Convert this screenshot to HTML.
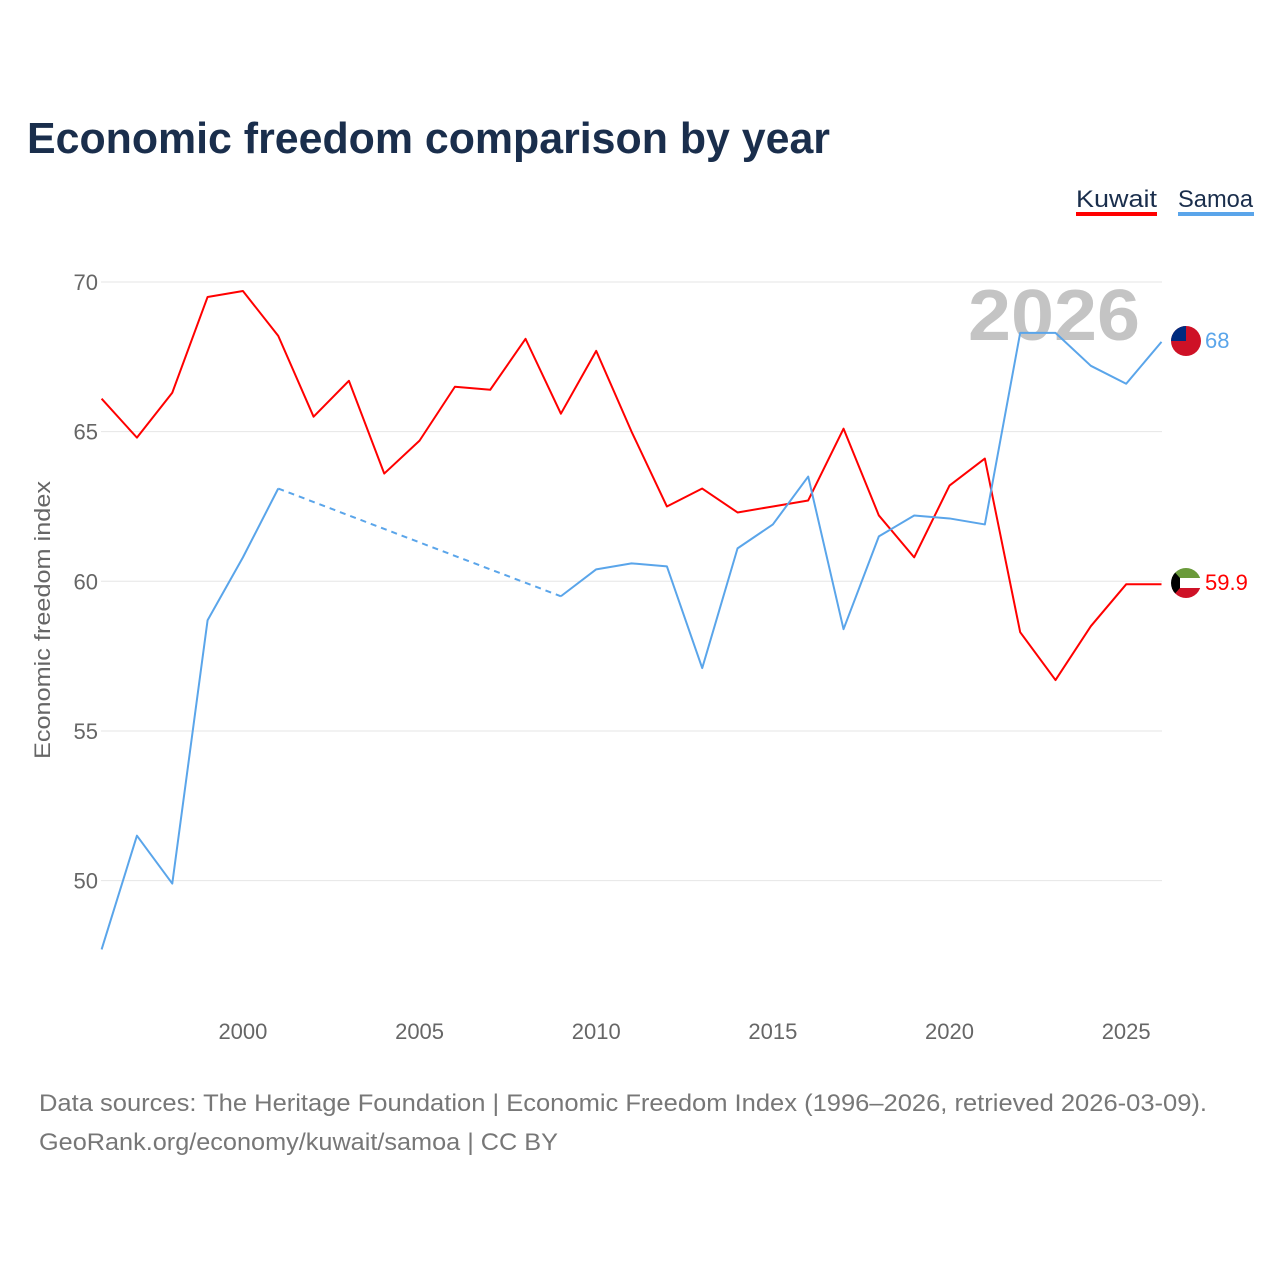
<!DOCTYPE html>
<html><head><meta charset="utf-8"><style>
body{margin:0;background:#fff;font-family:"Liberation Sans",sans-serif;}
#wrap{position:relative;width:1280px;height:1280px;overflow:hidden;}
</style></head><body>
<div id="wrap">
<svg id="chart" width="1280" height="1280">
<defs>
<clipPath id="cs"><circle cx="1186" cy="341" r="15"/></clipPath>
<clipPath id="ck"><circle cx="1186" cy="583" r="15"/></clipPath>
</defs>
</svg>
</div>
<script>
const years=[1996,1997,1998,1999,2000,2001,2002,2003,2004,2005,2006,2007,2008,2009,2010,2011,2012,2013,2014,2015,2016,2017,2018,2019,2020,2021,2022,2023,2024,2025,2026];
const kuwait=[66.1,64.8,66.3,69.5,69.7,68.2,65.5,66.7,63.6,64.7,66.5,66.4,68.1,65.6,67.7,65.0,62.5,63.1,62.3,62.5,62.7,65.1,62.2,60.8,63.2,64.1,58.3,56.7,58.5,59.9,59.9];
const samoa=[47.7,51.5,49.9,58.7,60.8,63.1,null,null,null,null,null,null,null,59.5,60.4,60.6,60.5,57.1,61.1,61.9,63.5,58.4,61.5,62.2,62.1,61.9,68.3,68.3,67.2,66.6,68.0];
const yTicks=[50,55,60,65,70];
const xTicks=[2000,2005,2010,2015,2020,2025];
const NS="http://www.w3.org/2000/svg";
const svg=document.getElementById('chart');
function xS(y){return 101.6+(y-1996)*35.33;}
function yS(v){return 282+(70-v)*29.93;}
function el(t,a,txt){const e=document.createElementNS(NS,t);for(const k in a)e.setAttribute(k,a[k]);if(txt!=null)e.textContent=txt;svg.appendChild(e);return e;}
let e;
e=el('text',{x:27,y:153,'font-size':44,'font-weight':'bold',fill:'#1a2e4c',textLength:803,lengthAdjust:'spacingAndGlyphs'},'Economic freedom comparison by year');

e=el('text',{x:1076,y:207,'font-size':24,fill:'#1a2e4c',textLength:81,lengthAdjust:'spacingAndGlyphs'},'Kuwait');

el('rect',{x:1076,y:212,width:81,height:4,fill:'#ff0000'});
e=el('text',{x:1178,y:207,'font-size':24,fill:'#1a2e4c',textLength:75,lengthAdjust:'spacingAndGlyphs'},'Samoa');

el('rect',{x:1178,y:212,width:76,height:4,fill:'#5aa5ea'});
yTicks.forEach(v=>{
 const g=el('line',{x1:101,x2:1162,y1:yS(v),y2:yS(v),stroke:'#e6e6e6','stroke-width':1});
 
 const t=el('text',{x:98,y:yS(v)+8,'font-size':22,fill:'#666','text-anchor':'end'},String(v));
 
});
xTicks.forEach(v=>{
 const t=el('text',{x:xS(v),y:1039,'font-size':22,fill:'#666','text-anchor':'middle'},String(v));
 
});
e=el('text',{x:0,y:0,'font-size':22,fill:'#666','text-anchor':'middle',transform:'translate(50,620) rotate(-90)',textLength:278,lengthAdjust:'spacingAndGlyphs'},'Economic freedom index');

e=el('text',{x:1140,y:340,'font-size':72,'font-weight':'bold',fill:'#c4c4c4','text-anchor':'end',textLength:172,lengthAdjust:'spacingAndGlyphs'},'2026');

function drawSeries(vals,color,name){
 let segs=[],cur=[];
 vals.forEach((v,i)=>{if(v==null){if(cur.length)segs.push(cur);cur=[];}else cur.push([xS(years[i]),yS(v)]);});
 if(cur.length)segs.push(cur);
 segs.forEach((s,k)=>{
  const p=el('polyline',{points:s.map(q=>q.join(',')).join(' '),fill:'none',stroke:color,'stroke-width':2,'stroke-linejoin':'round'});
  
  if(k<segs.length-1){const n=segs[k+1][0];const last=s[s.length-1];
   const d=el('line',{x1:last[0],y1:last[1],x2:n[0],y2:n[1],stroke:color,'stroke-width':2,'stroke-dasharray':'6,5'});
   }
 });
}
drawSeries(kuwait,'#ff0000','kuwait');
drawSeries(samoa,'#5aa5ea','samoa');
const kl=kuwait[kuwait.length-1], sl=samoa[samoa.length-1];
const cx=1186;
// Samoa flag
let g=el('g',{'clip-path':'url(#cs)'});

let sy=341;
[['rect',{x:cx-15,y:sy-15,width:30,height:30,fill:'#ce1126'}],['rect',{x:cx-15,y:sy-15,width:15,height:15,fill:'#002b7f'}]].forEach(([t,a])=>{const r=document.createElementNS(NS,t);for(const k in a)r.setAttribute(k,a[k]);g.appendChild(r);});
e=el('text',{x:1205,y:sy+7,'font-size':22,fill:'#5aa5ea'},String(sl));

// Kuwait flag
g=el('g',{'clip-path':'url(#ck)'});

let ky=583;
[['rect',{x:cx-15,y:ky-15,width:30,height:10,fill:'#6a9a3a'}],['rect',{x:cx-15,y:ky-5,width:30,height:10,fill:'#ffffff'}],['rect',{x:cx-15,y:ky+5,width:30,height:10,fill:'#ce1126'}],['path',{d:`M${cx-15},${ky-15} L${cx-6},${ky-5} L${cx-6},${ky+5} L${cx-15},${ky+15} Z`,fill:'#000'}]].forEach(([t,a])=>{const r=document.createElementNS(NS,t);for(const k in a)r.setAttribute(k,a[k]);g.appendChild(r);});
e=el('text',{x:1205,y:ky+7,'font-size':22,fill:'#ff0000'},String(kl));

e=el('text',{x:39,y:1111,'font-size':24,fill:'#777',textLength:1168,lengthAdjust:'spacingAndGlyphs'},'Data sources: The Heritage Foundation | Economic Freedom Index (1996–2026, retrieved 2026-03-09).');

e=el('text',{x:39,y:1150,'font-size':24,fill:'#777',textLength:519,lengthAdjust:'spacingAndGlyphs'},'GeoRank.org/economy/kuwait/samoa | CC BY');

</script>
</body></html>
